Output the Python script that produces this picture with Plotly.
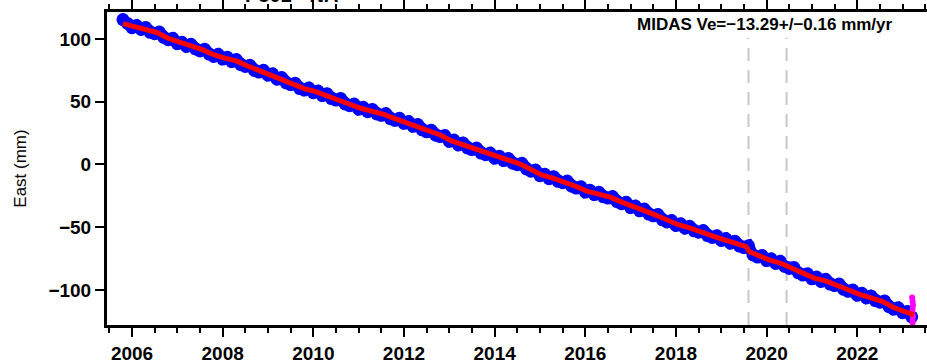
import numpy as np
import plotly.graph_objects as go

# ---------------- data ----------------
blue_t0 = 2005.8
blue_dt = 0.1
east_obs = [
    115.5, 112.4, 109.0, 110.8, 107.6, 109.2, 105.3, 104.2, 105.6, 101.2,
    99.4, 100.6, 96.2, 97.4, 94.0, 95.8, 92.1, 90.5, 91.9, 88.0,
    86.1, 87.8, 84.0, 85.5, 82.0, 83.6, 79.5, 78.1, 79.0, 74.9,
    73.6, 75.0, 71.1, 72.2, 68.0, 69.3, 65.1, 63.6, 64.7, 60.5,
    59.3, 61.0, 57.2, 58.6, 54.9, 56.4, 52.5, 51.3, 52.6, 48.2,
    46.8, 48.1, 44.0, 45.6, 42.1, 43.9, 40.3, 39.2, 40.6, 36.5,
    35.2, 36.8, 32.8, 34.2, 30.4, 31.9, 27.6, 26.0, 27.3, 23.3,
    22.2, 23.0, 18.4, 19.5, 15.6, 17.2, 13.2, 11.9, 13.1, 9.1,
    7.8, 9.1, 5.0, 6.6, 3.1, 4.8, 1.0, -0.2, 1.0, -3.5,
    -5.3, -4.4, -8.9, -7.7, -11.3, -9.7, -13.4, -14.5, -13.2, -17.3,
    -18.8, -17.7, -22.0, -20.5, -24.0, -22.2, -25.8, -26.8, -25.5, -29.7,
    -31.3, -30.1, -34.3, -33.0, -36.9, -35.5, -39.5, -40.9, -39.8, -44.1,
    -45.8, -44.6, -48.6, -47.2, -50.8, -49.2, -52.9, -54.0, -52.6, -56.7,
    -58.1, -56.7, -60.5, -59.0, -62.7, -61.2, -65.0, -66.2, -64.7, -72.1,
    -73.8, -72.6, -76.6, -75.2, -78.8, -77.2, -81.3, -82.8, -82.0, -86.3,
    -88.1, -87.0, -91.1, -89.7, -93.2, -91.5, -95.3, -96.5, -95.3, -99.5,
    -101.1, -100.0, -104.1, -102.7, -106.3, -104.7, -108.5, -109.7, -108.7, -113.3,
    -115.3, -114.1, -118.1, -117.1, -121.4,
]
blue_t = np.round(blue_t0 + blue_dt * np.arange(len(east_obs)), 2)

fit_t = [
    2005.80, 2006.05, 2006.30, 2006.55, 2006.80, 2007.05, 2007.30, 2007.55, 2007.80,
    2008.05, 2008.30, 2008.55, 2008.80, 2009.05, 2009.30, 2009.55, 2009.80,
    2010.05, 2010.30, 2010.55, 2010.80, 2011.05, 2011.30, 2011.55, 2011.80,
    2012.05, 2012.30, 2012.55, 2012.80, 2013.05, 2013.30, 2013.55, 2013.80,
    2014.05, 2014.30, 2014.55, 2014.80, 2015.05, 2015.30, 2015.55, 2015.80,
    2016.05, 2016.30, 2016.55, 2016.80, 2017.05, 2017.30, 2017.55, 2017.80,
    2018.05, 2018.30, 2018.55, 2018.80, 2019.05, 2019.30, 2019.55, 2019.62,
    2019.80, 2020.05, 2020.30, 2020.50, 2020.80, 2021.05, 2021.30, 2021.55,
    2021.80, 2022.05, 2022.30, 2022.55, 2022.80, 2023.05, 2023.25,
]
fit_east = [
    112.3, 110.0, 107.5, 105.2, 100.5, 97.0, 94.5, 91.5, 87.5,
    84.8, 82.5, 78.5, 74.8, 71.5, 68.0, 64.0, 60.5,
    58.0, 55.0, 52.0, 48.0, 44.8, 42.5, 40.0, 36.5,
    33.5, 30.5, 26.5, 23.5, 18.8, 15.8, 12.5, 9.0,
    5.8, 3.5, 0.5, -4.0, -8.5, -11.0, -13.8, -17.5,
    -21.5, -23.5, -26.0, -30.0, -33.8, -36.8, -40.3, -44.5,
    -48.0, -50.5, -53.2, -56.8, -59.8, -62.5, -65.5, -69.5,
    -72.5, -76.0, -78.5, -81.5, -86.8, -90.5, -92.8, -95.8,
    -99.8, -103.5, -106.0, -109.0, -114.0, -117.5, -119.8,
]

recent_t = [2023.21, 2023.22, 2023.23, 2023.22, 2023.21, 2023.23, 2023.22, 2023.22]
recent_east = [-106.0, -109.0, -112.0, -115.0, -118.0, -121.0, -124.0, -126.0]

event_years = [2019.6, 2020.44]

x_major = [2006, 2008, 2010, 2012, 2014, 2016, 2018, 2020, 2022]
y_major = [-100, -50, 0, 50, 100]

x_range = [2005.448, 2023.538]
y_range = [-127.9, 121.5]

title_text = "P501 - NA"
midas_text = "MIDAS Ve=\u221213.29+/\u22120.16 mm/yr"

# ---------------- figure ----------------
fig = go.Figure()

for ev in event_years:
    fig.add_shape(type="line", xref="x", yref="y", x0=ev, x1=ev, y0=y_range[0], y1=101,
                  line=dict(color="#c8c8c8", width=2, dash="13px,9px"), layer="below")

fig.add_trace(go.Scatter(x=blue_t, y=east_obs, mode="lines+markers",
                         line=dict(color="#0000ff", width=11),
                         marker=dict(color="#0000ff", size=13, line=dict(width=0)),
                         showlegend=False, hoverinfo="skip"))
fig.add_trace(go.Scatter(x=recent_t, y=recent_east, mode="markers",
                         marker=dict(color="#ff00ff", size=6, line=dict(width=0)),
                         showlegend=False, hoverinfo="skip"))
fig.add_trace(go.Scatter(x=fit_t, y=fit_east, mode="lines",
                         line=dict(color="#ff0000", width=5),
                         showlegend=False, hoverinfo="skip"))

tickfont = dict(family="Liberation Sans, Arial, sans-serif", size=19, color="black", weight="bold")

fig.update_xaxes(range=x_range, tickvals=x_major, ticks="outside", ticklen=9, tickwidth=2,
                 tickcolor="black", showline=True, linewidth=3, linecolor="black",
                 mirror="ticks", showgrid=False, zeroline=False, tickfont=tickfont,
                 minor=dict(dtick=0.5, tick0=2006, ticks="outside", ticklen=5,
                            tickwidth=2, tickcolor="black", showgrid=False))
fig.update_yaxes(range=y_range, tickvals=y_major, ticks="outside", ticklen=9, tickwidth=2,
                 tickcolor="black", showline=True, linewidth=3, linecolor="black",
                 mirror=False, showgrid=False, zeroline=False, tickfont=tickfont,
                 title=dict(text="East (mm)", standoff=18,
                            font=dict(family="Liberation Sans, Arial, sans-serif", size=17, color="black")))

fig.add_annotation(xref="paper", yref="paper", x=0.2244, y=1.0127, xanchor="center", yanchor="bottom",
                   text=title_text, showarrow=False,
                   font=dict(family="Liberation Sans, Arial, sans-serif", size=20, color="black", weight="bold"))
fig.add_annotation(xref="paper", yref="paper", x=0.961, y=0.96, xanchor="right", yanchor="middle",
                   text=midas_text, showarrow=False,
                   font=dict(family="Liberation Sans, Arial, sans-serif", size=17, color="black", weight="bold"))

fig.update_layout(width=927, height=364, margin=dict(l=107, r=0, t=11, b=37),
                  paper_bgcolor="white", plot_bgcolor="white")

fig.write_html("out.html")
